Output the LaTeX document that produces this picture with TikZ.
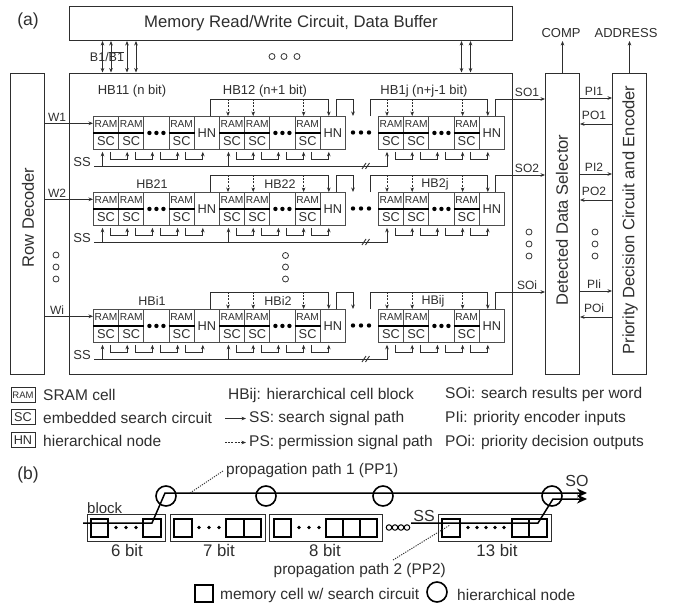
\documentclass[tikz,border=0pt]{standalone}
\usepackage{fontspec}
\setmainfont{Liberation Sans}
\usetikzlibrary{arrows.meta,calc}
\newcommand\fsz[1]{\fontsize{#1pt}{#1pt}\selectfont}
\definecolor{ink}{gray}{0.18}
\tikzset{
  line/.style={draw=ink,line width=0.85pt},
  sarr/.style={line,-{Stealth[length=4.5pt,width=3.6pt]}},
  barr/.style={line,{Stealth[length=4.5pt,width=3.6pt]}-{Stealth[length=4.5pt,width=3.6pt]}},
  parr/.style={line,dash pattern=on 2pt off 1.2pt,-{Stealth[length=4.5pt,width=3.6pt]}},
  box/.style={draw=ink,line width=1pt,inner sep=0pt,text=ink},
  cellbox/.style={draw=ink!85,line width=0.85pt,fill=none,inner sep=0pt,minimum width=25.2pt,minimum height=33pt,anchor=north west,text=ink},
  ramt/.style={inner sep=0pt,minimum width=25pt,minimum height=16.5pt,text=ink,font=\fsz{10.2}},
  sct/.style={inner sep=0pt,minimum width=25pt,minimum height=16.5pt,text=ink,font=\fsz{12.8}},
  lab/.style={inner sep=0pt,text=ink,font=\fsz{12}},
  blab/.style={inner sep=0pt,text=ink,font=\fsz{13}},
  vert/.style={inner sep=0pt,rotate=90,text=ink,font=\fsz{16.5}},
  leg/.style={inner sep=0pt,text=ink,font=\fsz{15.5},anchor=west},
  bt/.style={inner sep=0pt,text=ink,font=\fsz{16.8}},
  mem/.style={draw=black,line width=1.6pt,inner sep=0pt,minimum width=17.5pt,minimum height=17.5pt,anchor=center},
  outer/.style={draw=ink,line width=0.9pt,inner sep=0pt,anchor=north west},
  hier/.style={circle,draw=black,line width=1.6pt,inner sep=0pt,minimum size=20pt},
  ocirc/.style={circle,draw=ink,line width=0.8pt,inner sep=0pt,minimum size=6pt},
  thk/.style={draw=black,line width=1.5pt},
  dots/.style={circle,fill=black,inner sep=0pt,minimum size=4.4pt},
  bdots/.style={circle,fill=black,inner sep=0pt,minimum size=3.6pt},
  dotl/.style={draw=ink,line width=0.9pt,dash pattern=on 1.2pt off 1.2pt},
}
\begin{document}
\begin{tikzpicture}[x=1pt,y=-1pt]
\useasboundingbox (0,0) rectangle (675,605);
% main boxes
\node[box,anchor=north west,minimum width=443pt,minimum height=34pt,font=\fsz{16.7}] (memb) at (69,6) {Memory Read/Write Circuit, Data Buffer};
\node[box,anchor=north west,minimum width=443pt,minimum height=301pt] (mainb) at (69,73) {};
\node[box,anchor=north west,minimum width=34pt,minimum height=301pt] (rowd) at (10,73) {};
\node[vert] (rowt) at (28,217.5) {Row Decoder};
\node[box,anchor=north west,minimum width=34pt,minimum height=301pt] (dds) at (545,73) {};
\node[vert] (ddst) at (562,220) {Detected Data Selector};
\node[box,anchor=north west,minimum width=34pt,minimum height=301pt] (pri) at (612,73) {};
\node[vert] (prit) at (630,220) {Priority Decision Circuit and Encoder};
\node[inner sep=0pt,text=ink,font=\fsz{17.5}] (la) at (28,21) {(a)};
\node[inner sep=0pt,text=ink,font=\fsz{17.5}] (lb) at (28,475) {(b)};
% bit lines
\foreach \n/\x in {a/102.5,b/111,c/127,d/136,e/461.5,f/470.5}{
  \coordinate (bt\n) at (\x,41); \coordinate (bb\n) at (\x,72.5);
  \draw[barr] (bt\n) -- (bb\n);
}
\node[lab,font=\fsz{12.5}] (bl) at (107,56.5) {B1/$\overline{\mbox{B1}}$};
\foreach \n/\x/\y in {a/272/56.5,b/284/56.5,c/297/56.5,d/56/255,e/56/267,f/56/279,g/285.5/255.5,h/285.5/267,i/285.5/279,j/529/232,k/529/244,l/529/256,m/595/232,n/595/244,o/595/256}
  \node[ocirc] (oc\n) at (\x,\y) {};
% top outputs
\node[blab] (comp) at (561,33) {COMP};
\node[blab] (addr) at (626,33) {ADDRESS};
\draw[sarr] (dds.north) -- ++(0,-32);
\draw[sarr] (pri.north) -- ++(0,-32);
% rows
\foreach \r/\y/\wlab/\solab/\pilab/\polab in {1/116/W1/SO1/PI1/PO1,2/192/W2/SO2/PI2/PO2,3/309/Wi/SOi/PIi/POi}{
  \foreach \b/\bx in {1/93,2/219,3/378}{
    \foreach \c in {1,...,5}{
      \pgfmathsetmacro\cx{\bx+(\c-1)*25.2}
      \node[cellbox] (c-\r-\b-\c) at (\cx,\y) {};
    }
    \foreach \c in {1,2,4}{
      \node[ramt,anchor=north] (ram-\r-\b-\c) at (c-\r-\b-\c.north) {RAM};
      \node[sct,anchor=south] (sc-\r-\b-\c) at (c-\r-\b-\c.south) {SC};
      \draw[thk] (c-\r-\b-\c.west) -- (c-\r-\b-\c.east);
    }
    \node[sct] (hn-\r-\b) at (c-\r-\b-5.center) {HN};
    \node[dots] (da-\r-\b) at ([xshift=-7pt]c-\r-\b-3.center) {};
    \node[dots] (db-\r-\b) at (c-\r-\b-3.center) {};
    \node[dots] (dc-\r-\b) at ([xshift=7pt]c-\r-\b-3.center) {};
    % hops
    \foreach \c/\d in {1/2,2/3,3/4,4/5}
      \draw[sarr] ([xshift=17pt,yshift=-2pt]c-\r-\b-\c.south west) -- ++(0,7.5) -| ([xshift=9pt,yshift=-2pt]c-\r-\b-\d.south west);
    % permission arrows
    \ifnum\b>1
    \foreach \c in {1,2,4}
      \draw[parr] ([xshift=9pt,yshift=17pt]c-\r-\b-\c.north west) -- ([xshift=9pt]c-\r-\b-\c.north west);
    \fi
  }
  % between dots
  \coordinate (mid-\r) at (361,\y+16.5);
  \node[dots] (ma-\r) at ([xshift=-8pt]mid-\r) {};
  \node[dots] (mb-\r) at (mid-\r) {};
  \node[dots] (mc-\r) at ([xshift=8pt]mid-\r) {};
  % brackets
  \draw[sarr] ([xshift=17pt]c-\r-1-5.north west) -- ++(0,-17) -| ([xshift=9pt]c-\r-2-5.north west);
  \coordinate (fa-\r) at (353,\y);
  \draw[sarr] ([xshift=17pt]c-\r-2-5.north west) -- ++(0,-17) -| (fa-\r);
  \coordinate (fb-\r) at (370,\y);
  \draw[sarr] (fb-\r) -- ++(0,-17) -| ([xshift=9pt]c-\r-3-5.north west);
  \coordinate (soe-\r) at (545,\y-17);
  \draw[sarr] ([xshift=16.5pt]c-\r-3-5.north west) |- (soe-\r);
  % SS
  \node[blab] (ss-\r) at (82,\y+46) {SS};
  \coordinate (ssl-\r) at (94,\y+50);
  \draw[sarr] (ssl-\r) -| ([xshift=9pt,yshift=-2pt]c-\r-3-1.south west);
  \coordinate (ssa-\r) at (102.5,\y+50);
  \coordinate (ssb-\r) at (228.5,\y+50);
  \draw[sarr] (ssa-\r) -- ([xshift=9.5pt,yshift=-2pt]c-\r-1-1.south west);
  \draw[sarr] (ssb-\r) -- ([xshift=9.5pt,yshift=-2pt]c-\r-2-1.south west);
  \coordinate (sla-\r) at (364,\y+50);
  \coordinate (slb-\r) at (367.5,\y+50);
  \draw[line] ([xshift=-2pt,yshift=-3pt]sla-\r) -- ([xshift=2pt,yshift=3pt]sla-\r);
  \draw[line] ([xshift=-2pt,yshift=-3pt]slb-\r) -- ([xshift=2pt,yshift=3pt]slb-\r);
  % word line
  \coordinate (wl-\r) at (44,\y+7.3);
  \draw[sarr] (wl-\r) -- (c-\r-1-1.west |- wl-\r);
  \node[lab] (wt-\r) at (57,\y+1) {\wlab};
  % SO label
  \node[lab] (sot-\r) at (527,\y-24) {\solab};
  \coordinate (pi-\r) at (579.5,\y-18);
  \draw[sarr] (pi-\r) -- (pri.west |- pi-\r);
  \node[lab] (pit-\r) at (594,\y-25) {\pilab};
  \coordinate (po-\r) at (612,\y+8);
  \draw[sarr] (po-\r) -- (dds.east |- po-\r);
  \node[lab] (pot-\r) at (594,\y-1) {\polab};
}
% HB labels
\node[blab] (h11) at (132,91) {HB11 (n bit)};
\node[blab] (h12) at (265,91) {HB12 (n+1 bit)};
\node[blab] (h13) at (424,91) {HB1j (n+j-1 bit)};
\node[lab,font=\fsz{12.5}] (h21) at (152,184) {HB21};
\node[lab,font=\fsz{12.5}] (h22) at (280,184) {HB22};
\node[lab,font=\fsz{12.5}] (h23) at (435,184) {HB2j};
\node[lab,font=\fsz{12.5}] (h31) at (152,301) {HBi1};
\node[lab,font=\fsz{12.5}] (h32) at (278,301) {HBi2};
\node[lab,font=\fsz{12.5}] (h33) at (433,301) {HBij};
% legend
\node[box,anchor=north west,minimum width=24pt,minimum height=15pt,font=\fsz{9.5}] (lr) at (10.5,387) {RAM};
\node[box,anchor=north west,minimum width=24pt,minimum height=15pt,font=\fsz{12.7}] (ls) at (10.5,409) {SC};
\node[box,anchor=north west,minimum width=24pt,minimum height=15pt,font=\fsz{12.7}] (lh) at (10.5,432) {HN};
\node[leg] (lt1) at (43,395) {SRAM cell};
\node[leg] (lt2) at (43,418) {embedded search circuit};
\node[leg] (lt3) at (43,441) {hierarchical node};
\node[leg] (m1) at (228,395) {HBij: hierarchical cell block};
\node[leg] (m2) at (249,418) {SS: search signal path};
\node[leg] (m3) at (249,442) {PS: permission signal path};
\coordinate (a1) at (225,418.5);\coordinate (a2) at (225,442.5);
\draw[sarr] (a1) -- ([xshift=-3pt]m2.west |- a1);
\draw[parr] (a2) -- ([xshift=-3pt]m3.west |- a2);
\node[leg] (r1) at (445,394) {SOi: search results per word};
\node[leg] (r2) at (445,418) {PIi: priority encoder inputs};
\node[leg] (r3) at (445,442) {POi: priority decision outputs};
% part b
\foreach \n/\x/\w in {A/87/78,B/170/95,C/269/113,D/438/113}
  \node[outer,minimum width=\w pt,minimum height=27pt] (ob\n) at (\x,514) {};
\foreach \n/\x in {a/99.5,b/152,c/183,d/235,e/252.5,f/282.5,g/334.5,h/351.5,i/368.5,j/451,k/520.5,l/538}
  \node[mem] (mm\n) at (\x,528) {};
\foreach \n/\x in {a/116,b/126,c/136,d/199,e/209,f/219,g/299,h/309,i/319,j/468,k/477,l/486,m/495,n/504}
  \node[bdots] (bd\n) at (\x,527.5) {};
\foreach \n/\x in {a/389,b/395,c/401,d/407}
  \node[ocirc,minimum size=5.5pt,line width=1pt,draw=black] (bo\n) at (\x,527.5) {};
\node[hier] (h1) at (166,496) {};
\node[hier] (h2) at (266,496) {};
\node[hier] (h3) at (383,496) {};
\node[hier] (h4) at (552,496) {};
\coordinate (l1) at (83,523);\coordinate (l1b) at (152,523);\coordinate (l1c) at (165,493);\coordinate (e1) at (587,493);
\coordinate (l2) at (411,523);\coordinate (l2b) at (538,523);\coordinate (l2c) at (553,499);\coordinate (e2) at (587,499);
\draw[black,line width=1.5pt,-{Stealth[length=10pt,width=9pt]}] (l1) -- (l1b) -- (l1c) -- (e1);
\draw[black,line width=1.5pt,-{Stealth[length=10pt,width=9pt]}] (l2) -- (l2b) -- (l2c) -- (e2);
\node[bt,font=\fsz{16}] (so) at (577,481) {SO};
\node[bt,font=\fsz{16}] (ss) at (424,516) {SS};
\node[inner sep=0pt,text=ink,font=\fsz{15},anchor=west] (blk) at (87,508) {block};
\node[bt] (b6) at (127,550) {6 bit};
\node[bt] (b7) at (219,550) {7 bit};
\node[bt] (b8) at (325,550) {8 bit};
\node[bt] (b13) at (497,550) {13 bit};
\node[inner sep=0pt,text=ink,font=\fsz{15.4},anchor=west] (pp1) at (226,471) {propagation path 1 (PP1)};
\node[inner sep=0pt,text=ink,font=\fsz{15.4},anchor=east] (pp2) at (446,571) {propagation path 2 (PP2)};
\coordinate (q1) at (190,493);
\draw[dotl] (q1) -- ([xshift=-3pt]pp1.west);
\coordinate (q2) at (393,560);\coordinate (q3) at (450,525);
\draw[dotl] (q2) -- (q3);
\node[mem] (lm) at (204,593.5) {};
\node[leg] (lmt) at (220,595) {memory cell w/ search circuit};
\node[hier] (lc) at (437,592) {};
\node[leg] (lct) at (457,595) {hierarchical node};
\end{tikzpicture}
\end{document}
